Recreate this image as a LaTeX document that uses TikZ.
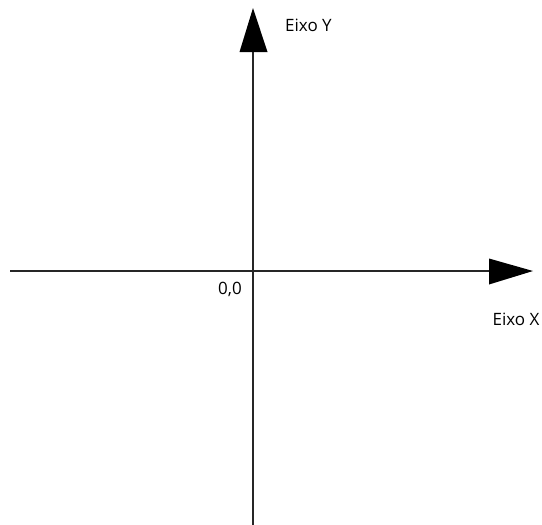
\documentclass[tikz,border=0pt]{standalone}
\usepackage{fontspec}
\setmainfont{Open Sans}
\begin{document}
\begin{tikzpicture}[x=1pt,y=-1pt,
  axis/.style={line width=1.4pt,draw=black!85},
  head/.style={fill=black,draw=none},
  lbl/.style={font=\fontsize{17}{20}\selectfont,inner sep=0pt}]
\useasboundingbox (0,0) rectangle (542,525);
\coordinate (ytip) at (253,8);
\coordinate (ybase) at (253,52);
\coordinate (ybot) at (253,525);
\coordinate (xleft) at (10,271);
\coordinate (xbase) at (489,271);
\coordinate (xtip) at (533,271);
\draw[axis] (ybot) -- (ybase);
\draw[axis] (xleft) -- (xbase);
\fill[head] (ytip) -- ([xshift=-13.5pt]ybase) -- ([xshift=14.5pt]ybase) -- cycle;
\fill[head] (xtip) -- ([yshift=-13.5pt]xbase) -- ([yshift=12.5pt]xbase) -- cycle;
\node[lbl,anchor=west] (ly) at (285,25) {Eixo Y};
\node[lbl] (lx) at (516,319) {Eixo X};
\node[lbl] (lo) at (230,289) {0,0};
\end{tikzpicture}
\end{document}
